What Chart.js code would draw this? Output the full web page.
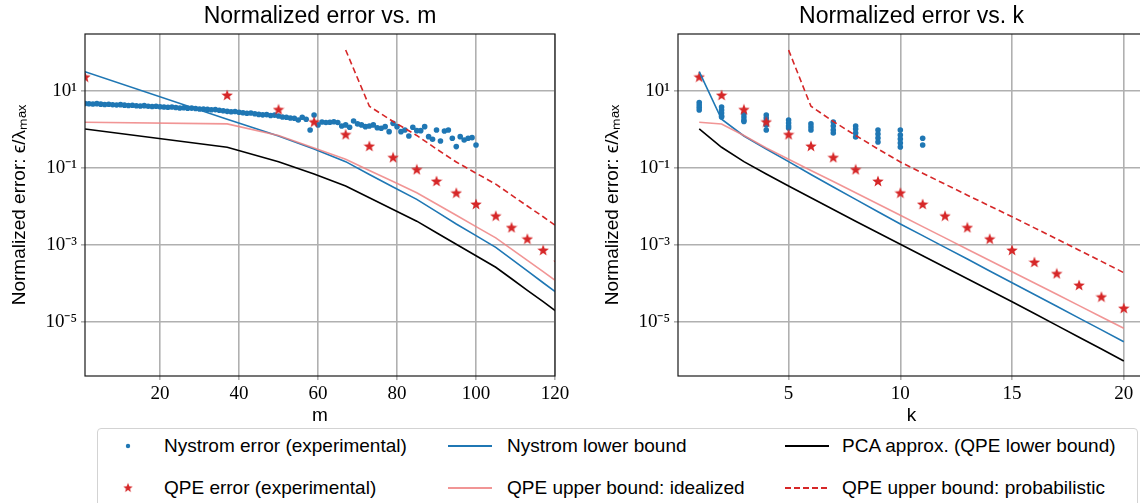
<!DOCTYPE html>
<html>
<head>
<meta charset="utf-8">
<script src="https://cdn.jsdelivr.net/npm/chart.js@4/dist/chart.umd.min.js"></script>
<style>
  body { margin: 0; width: 1140px; height: 503px; overflow: hidden; background: #fff; position: relative; font-family: "Liberation Sans", sans-serif; }
  #mChart { position: absolute; left: 0; top: 0; }
  #kChart { position: absolute; left: 593px; top: 0; }
  .legend { position: absolute; left: 97px; top: 428px; width: 1041px; height: 90px; border: 1px solid #d3d3d3; border-radius: 4px; box-sizing: border-box; background: #fff; }
  .item { position: absolute; font-size: 19px; line-height: 22px; color: #000; white-space: nowrap; }
  .item svg { position: absolute; }
</style>
</head>
<body>
<canvas id="mChart" width="575" height="440"></canvas>
<canvas id="kChart" width="572" height="440"></canvas>
<div class="legend" id="legend"></div>
<script>
// k = 1..20 and the m used for each k
const kValues = [1, 2, 3, 4, 5, 6, 7, 8, 9, 10, 11, 12, 13, 14, 15, 16, 17, 18, 19, 20];
const mValues = [1, 37, 50, 59, 67, 73, 79, 85, 90, 95, 100, 105, 109, 113, 117, 121];

// bounds, indexed by k
const nystromLower = [31.8, 1.84, 0.676, 0.310, 0.145, 0.0673, 0.0318, 0.0152, 0.00726, 0.00348,
  0.00173, 0.000855, 0.000425, 0.000209, 0.000103, 5.10e-5, 2.51e-5, 1.24e-5, 6.12e-6, 3.02e-6];
const qpeIdealized = [1.54, 1.39, 0.697, 0.330, 0.168, 0.0855, 0.0442, 0.0226, 0.0115, 0.00585,
  0.00297, 0.00151, 0.000769, 0.000391, 0.000200, 0.000101, 5.16e-5, 2.62e-5, 1.32e-5, 6.73e-6];
const pcaApprox = [1.03, 0.343, 0.145, 0.0694, 0.0338, 0.0167, 0.00828, 0.00411, 0.00205, 0.00103,
  0.000518, 0.000260, 0.000131, 6.56e-5, 3.31e-5, 1.63e-5, 8.02e-6, 3.95e-6, 1.94e-6, 9.50e-7];
// probabilistic bound only from k = 5
const qpeProbabilistic = [null, null, null, null, 116, 4.00, 1.61, 0.697, 0.310, 0.142,
  0.0728, 0.0377, 0.0195, 0.0102, 0.00535, 0.00275, 0.00142, 0.000724, 0.000370, 0.000188];
const qpeError = [23.5, 7.87, 3.34, 1.59, 0.748, 0.372, 0.189, 0.0920, 0.0456, 0.0226,
  0.0115, 0.00571, 0.00285, 0.00144, 0.000733, 0.000357, 0.000181, 9.01e-5, 4.47e-5, 2.27e-5];

// Nystrom experimental error for m = 1..100
const nystromByM = [
  4.74, 4.65, 4.60, 4.68, 4.54, 4.46, 4.52, 4.38, 4.33, 4.41,
  4.28, 4.20, 4.25, 4.13, 4.07, 4.15, 4.00, 3.95, 4.02, 3.88,
  3.84, 3.77, 3.82, 3.71, 3.61, 3.66, 3.55, 3.59, 3.49, 3.40,
  3.40, 3.32, 3.24, 3.28, 3.15, 3.06, 2.95, 2.88, 2.93, 2.79,
  2.71, 2.63, 2.68, 2.55, 2.46, 2.39, 2.43, 2.31, 2.35, 2.24,
  2.11, 2.07, 1.99, 1.95, 1.76, 2.07, 1.84, 0.968, 2.38, 1.31,
  1.56, 1.51, 1.54, 1.58, 1.51, 1.23, 1.31, 1.14, 1.66, 1.39,
  1.31, 1.18, 1.23, 1.31, 1.11, 1.07, 1.18, 0.875, 1.44, 1.18,
  0.875, 0.968, 0.676, 1.14, 0.928, 0.928, 1.18, 0.648, 0.555, 0.968,
  0.501, 0.912, 0.968, 0.589, 0.357, 0.648, 0.532, 0.589, 0.611, 0.394
];

// Nystrom experimental error by k (several runs each), k = 1..11
const nystromByK = [
  [5.03, 4.33, 3.72, 3.21],
  [3.84, 3.21, 2.68, 2.24, 2.11],
  [2.52, 2.11, 1.76, 1.61],
  [2.38, 1.99, 1.66, 1.31, 0.968],
  [1.76, 1.47, 1.23, 1.09],
  [1.39, 1.16, 0.968],
  [1.56, 1.23, 0.968, 0.809],
  [1.23, 1.03, 0.809, 0.637],
  [0.968, 0.762, 0.600, 0.472],
  [0.968, 0.718, 0.565, 0.445, 0.350],
  [0.589, 0.394]
];

const yTickValues = [1e-5, 1e-3, 1e-1, 10];
const yTickLabels = ['10⁻⁵', '10⁻³', '10⁻¹', '10¹'];
const mTicks = [20, 40, 60, 80, 100, 120];
const kTicks = [5, 10, 15, 20];

const BLUE = '#1f77b4';
const RED = '#d62728';
const PINK = 'rgba(238, 130, 130, 0.85)';
const GRID = '#b0b0b0';

function makeStar(size, color) {
  const c = document.createElement('canvas');
  c.width = size; c.height = size;
  const ctx = c.getContext('2d');
  const r = size / 2, ri = r * 0.42;
  ctx.beginPath();
  for (let i = 0; i < 10; i++) {
    const rad = i % 2 === 0 ? r : ri;
    const a = -Math.PI / 2 + i * Math.PI / 5;
    const px = r + rad * Math.cos(a), py = r + 0.6 + rad * Math.sin(a);
    if (i === 0) ctx.moveTo(px, py); else ctx.lineTo(px, py);
  }
  ctx.closePath();
  ctx.fillStyle = color;
  ctx.fill();
  return c;
}
const star = makeStar(12, RED);

function pairs(xs, ys) {
  const out = [];
  for (let i = 0; i < xs.length && i < ys.length; i++) {
    if (ys[i] !== null) out.push({ x: xs[i], y: ys[i] });
  }
  return out;
}

const frame = {
  id: 'frame',
  afterDatasetsDraw(chart) {
    const a = chart.chartArea, ctx = chart.ctx;
    ctx.save();
    ctx.strokeStyle = '#1a1a1a';
    ctx.lineWidth = 1.2;
    ctx.strokeRect(a.left, a.top, a.right - a.left, a.bottom - a.top);
    ctx.restore();
  }
};

function buildDatasets(xs, nystromPts) {
  return [
    { label: 'QPE upper bound: probabilistic', data: pairs(xs, qpeProbabilistic), showLine: true,
      borderColor: RED, borderWidth: 1.6, borderDash: [6, 3.5], pointRadius: 0, order: 1 },
    { label: 'PCA approx. (QPE lower bound)', data: pairs(xs, pcaApprox), showLine: true,
      borderColor: '#000', borderWidth: 1.6, pointRadius: 0, order: 2 },
    { label: 'QPE upper bound: idealized', data: pairs(xs, qpeIdealized), showLine: true,
      borderColor: PINK, borderWidth: 1.6, pointRadius: 0, order: 3 },
    { label: 'Nystrom lower bound', data: pairs(xs, nystromLower), showLine: true,
      borderColor: BLUE, borderWidth: 1.6, pointRadius: 0, order: 4 },
    { label: 'QPE error (experimental)', data: pairs(xs, qpeError),
      pointStyle: star, pointRadius: 5, order: 5 },
    { label: 'Nystrom error (experimental)', data: nystromPts,
      backgroundColor: BLUE, borderWidth: 0, pointRadius: 2.8, order: 6 }
  ];
}

function makeOptions(title, xTitle, xMin, xMax, xTicks) {
  return {
    responsive: false,
    animation: false,
    layout: { padding: { left: 0, right: 20, top: 0, bottom: 0 } },
    plugins: {
      legend: { display: false },
      tooltip: { enabled: false },
      title: { display: true, text: title, color: '#000', fullSize: false,
        font: { family: 'Liberation Sans', size: 23, weight: 'normal' }, padding: { top: 3, bottom: 3.4 } }
    },
    elements: { line: { tension: 0 } },
    scales: {
      x: {
        type: 'linear', min: xMin, max: xMax,
        afterBuildTicks: s => { s.ticks = xTicks.map(v => ({ value: v })); },
        afterFit: s => { s.height = 64; },
        ticks: { color: '#000', padding: 3, font: { family: 'Liberation Serif', size: 19 } },
        grid: { color: GRID, lineWidth: 1.6, tickLength: 4, tickColor: GRID },
        border: { display: false },
        title: { display: true, text: xTitle, color: '#000',
          font: { family: 'Liberation Sans', size: 19 }, padding: { top: 0, bottom: 13 } }
      },
      y: {
        type: 'logarithmic', min: 3.87e-7, max: 303,
        afterBuildTicks: s => { s.ticks = yTickValues.map(v => ({ value: v })); },
        afterFit: s => { s.width = 85; },
        ticks: { color: '#000', padding: 4,
          font: { family: 'Liberation Serif', size: 19 },
          callback: v => yTickLabels[yTickValues.indexOf(v)] },
        grid: { color: GRID, lineWidth: 1.6, tickLength: 4, tickColor: GRID },
        border: { display: false },
        title: { display: true, text: 'Normalized error: ϵ/λₘₐₓ', color: '#000',
          font: { family: 'Liberation Sans', size: 19 }, padding: { top: 8, bottom: 0 } }
      }
    }
  };
}

const mNystrom = nystromByM.map((v, i) => ({ x: i + 1, y: v }));
const kNystrom = [];
nystromByK.forEach((runs, i) => runs.forEach(v => kNystrom.push({ x: kValues[i], y: v })));

new Chart(document.getElementById('mChart'), {
  type: 'scatter',
  data: { datasets: buildDatasets(mValues, mNystrom) },
  options: makeOptions('Normalized error vs. m', 'm', 1, 120, mTicks),
  plugins: [frame]
});

new Chart(document.getElementById('kChart'), {
  type: 'scatter',
  data: { datasets: buildDatasets(kValues, kNystrom) },
  options: makeOptions('Normalized error vs. k', 'k', 0.05, 20.95, kTicks),
  plugins: [frame]
});

// legend
const legendItems = [
  { text: 'Nystrom error (experimental)', kind: 'dot', x: 0, row: 0 },
  { text: 'QPE error (experimental)', kind: 'star', x: 0, row: 1 },
  { text: 'Nystrom lower bound', kind: 'line', color: BLUE, x: 1, row: 0 },
  { text: 'QPE upper bound: idealized', kind: 'line', color: PINK, x: 1, row: 1 },
  { text: 'PCA approx. (QPE lower bound)', kind: 'line', color: '#000', x: 2, row: 0 },
  { text: 'QPE upper bound: probabilistic', kind: 'dash', color: RED, x: 2, row: 1 }
];
const colMarkerX = [10, 349, 686];
const colTextX = [66, 409, 744];
const rowY = [17, 59];
const legend = document.getElementById('legend');
legendItems.forEach(it => {
  const d = document.createElement('div');
  d.className = 'item';
  d.style.left = colTextX[it.x] + 'px';
  d.style.top = (rowY[it.row] - 11) + 'px';
  d.textContent = it.text;
  legend.appendChild(d);
  const svgNS = 'http://www.w3.org/2000/svg';
  const svg = document.createElementNS(svgNS, 'svg');
  svg.setAttribute('width', '46');
  svg.setAttribute('height', '14');
  svg.style.position = 'absolute';
  svg.style.left = colMarkerX[it.x] + 'px';
  svg.style.top = (rowY[it.row] - 7) + 'px';
  let el;
  if (it.kind === 'dot') {
    el = document.createElementNS(svgNS, 'circle');
    el.setAttribute('cx', '20'); el.setAttribute('cy', '7'); el.setAttribute('r', '2.2');
    el.setAttribute('fill', BLUE);
  } else if (it.kind === 'star') {
    el = document.createElementNS(svgNS, 'image');
    el.setAttribute('href', star.toDataURL());
    el.setAttribute('x', '15'); el.setAttribute('y', '1.5'); el.setAttribute('width', '10'); el.setAttribute('height', '10');
  } else {
    el = document.createElementNS(svgNS, 'line');
    el.setAttribute('x1', '1'); el.setAttribute('x2', '45'); el.setAttribute('y1', '7'); el.setAttribute('y2', '7');
    el.setAttribute('stroke', it.color); el.setAttribute('stroke-width', '1.8');
    if (it.kind === 'dash') el.setAttribute('stroke-dasharray', '6 3');
  }
  svg.appendChild(el);
  legend.appendChild(svg);
});
</script>
</body>
</html>
